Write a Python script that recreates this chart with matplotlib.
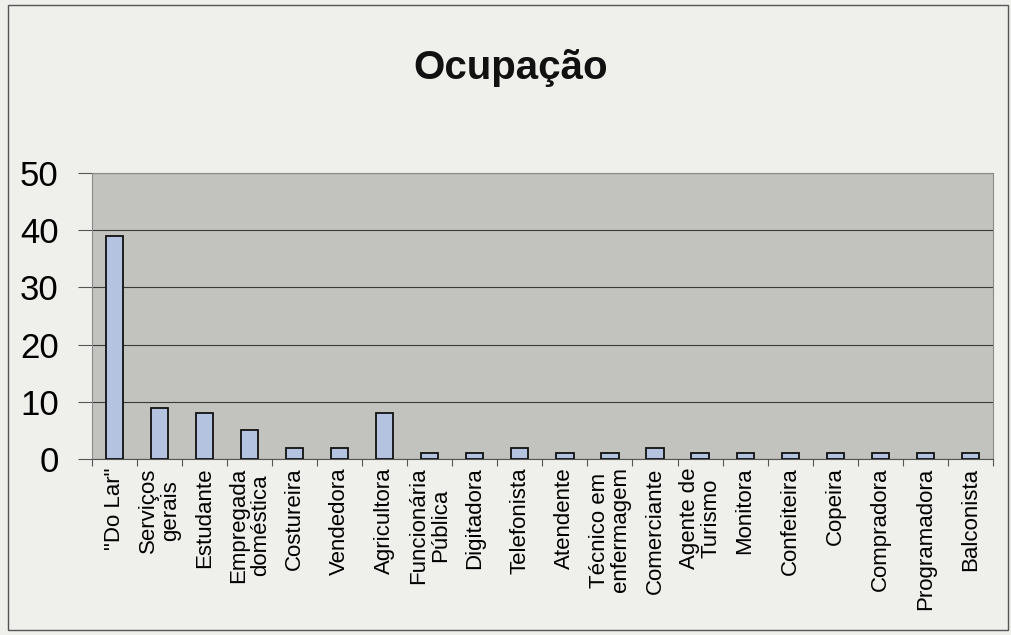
import numpy as np
import matplotlib.pyplot as plt
from matplotlib.patches import Rectangle

plt.rcParams['font.family'] = ['Liberation Sans', 'DejaVu Sans']

ocupacoes = ['"Do Lar"', 'Serviços\ngerais', 'Estudante', 'Empregada\ndoméstica',
             'Costureira', 'Vendedora', 'Agricultora', 'Funcionária\nPública',
             'Digitadora', 'Telefonista', 'Atendente', 'Técnico em\nenfermagem',
             'Comerciante', 'Agente de\nTurismo', 'Monitora', 'Confeiteira',
             'Copeira', 'Compradora', 'Programadora', 'Balconista']
contagem = [39, 9, 8, 5, 2, 2, 8, 1, 1, 2, 1, 1, 2, 1, 1, 1, 1, 1, 1, 1]
yticks = [0, 10, 20, 30, 40, 50]

fig = plt.figure(figsize=(10.12, 6.35), dpi=100, facecolor='#efefec')
ax = fig.add_axes([0.091, 0.277, 0.890, 0.451])
ax.set_facecolor('#c2c2bf')

x = np.arange(len(ocupacoes)) + 0.5
ax.bar(x, contagem, width=0.38, color='#b3c3e0', edgecolor='#111111',
       linewidth=1.3, zorder=3)

ax.set_xlim(0, len(ocupacoes))
ax.set_ylim(0, 50)
ax.set_yticks(yticks)
ax.set_yticklabels([str(v) for v in yticks], fontsize=25)
ax.yaxis.grid(True, color='#3a3a3a', linewidth=0.8, zorder=1)

# category labels centred between the boundary ticks
ax.set_xticks(np.arange(len(ocupacoes) + 1))
ax.set_xticklabels([])
ax.set_xticks(x, minor=True)
ax.set_xticklabels(ocupacoes, minor=True, rotation=90, fontsize=16,
                   va='top', ha='center', multialignment='center',
                   linespacing=1.05)
ax.tick_params(axis='x', which='minor', length=0, pad=6)
ax.tick_params(axis='x', which='major', length=5, color='#555555')
ax.tick_params(axis='y', length=10, color='#555555', pad=14)

for side in ['top', 'right', 'left']:
    ax.spines[side].set_color('#8a8a8a')
    ax.spines[side].set_linewidth(0.8)
ax.spines['bottom'].set_color('#555555')

fig.text(0.505, 0.893, 'Ocupação', ha='center', va='center',
         fontsize=29, fontweight='bold', color='#111111')

# outer chart frame
fig.patches.append(Rectangle((0.008, 0.008), 0.988, 0.984, transform=fig.transFigure,
                             fill=False, edgecolor='#555555', linewidth=1.0))

fig.savefig('out.png', dpi=100, facecolor=fig.get_facecolor())
